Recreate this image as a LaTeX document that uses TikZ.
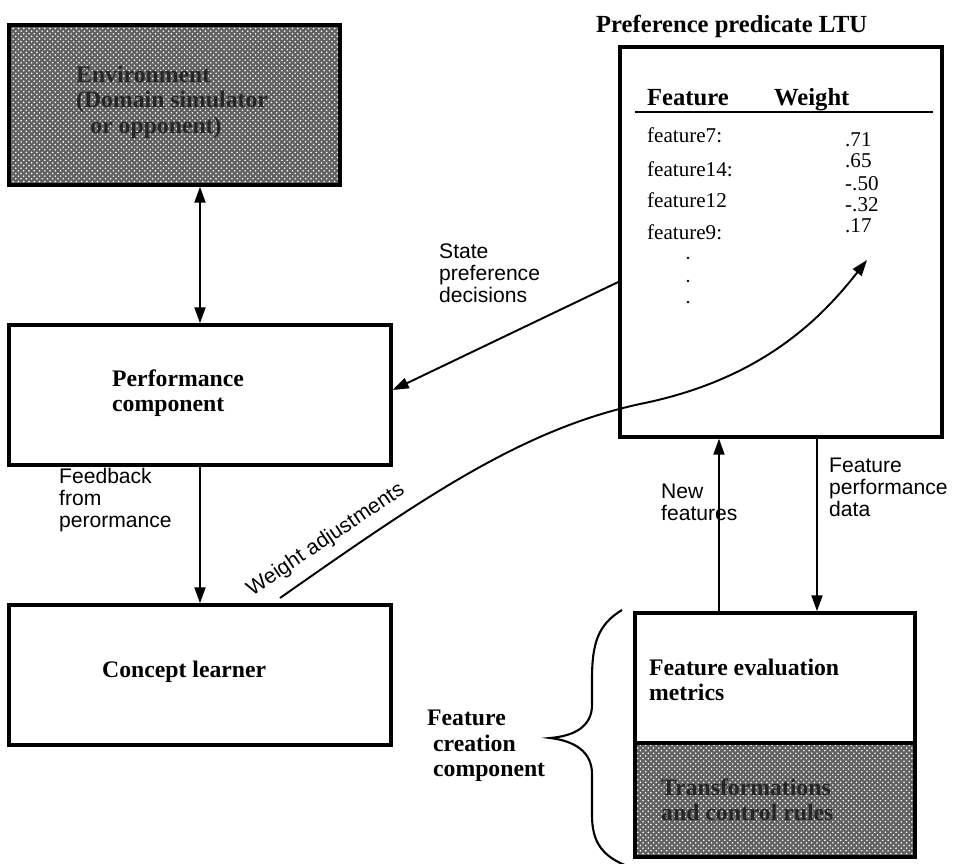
\documentclass[tikz,border=0pt]{standalone}
\usepackage{fontspec}
\setmainfont{Liberation Serif}
\setsansfont{Liberation Sans}
\usetikzlibrary{arrows.meta,patterns,calc}

\tikzset{
  box/.style={draw, line width=2pt, inner sep=0pt},
  shaded/.style={preaction={fill=black!62}, pattern=crosshatch dots, pattern color=white!80},
  boxtext/.style={anchor=west, align=left, font=\fontsize{13.5}{14.5}\selectfont\bfseries},
  flowlabel/.style={anchor=west, align=left, font=\sffamily\fontsize{12}{12.5}\selectfont},
  rowtext/.style={anchor=base west, font=\fontsize{12}{14}\selectfont},
  headtext/.style={anchor=base west, font=\fontsize{14}{16}\selectfont\bfseries},
  arrow/.style={line width=1.1pt, -{Triangle[length=3.2mm,width=2.2mm]}},
  dblarrow/.style={line width=1.1pt, {Triangle[length=3.2mm,width=2.2mm]}-{Triangle[length=3.2mm,width=2.2mm]}},
}

\begin{document}
\begin{tikzpicture}[x=0.02cm, y=-0.02cm]
\useasboundingbox (0,0) rectangle (965,864);

% left column
\node[box, shaded, minimum width=6.62cm, minimum height=3.2cm] (env) at (174.5,105) {};
\node[box, minimum width=7.64cm, minimum height=2.8cm] (perf) at (200,395) {};
\node[box, minimum width=7.64cm, minimum height=2.8cm] (learner) at (200,675) {};

\node[boxtext, text=black!85] (envtext) at (70,102) {Environment\\(Domain simulator\\\hspace*{0.6em}or opponent)};
\node[boxtext] (perftext) at (106,393) {Performance\\component};
\node[boxtext] (learnertext) at (96,672) {Concept learner};

% the LTU
\node[box, minimum width=6.44cm, minimum height=7.8cm] (ltu) at (781,242) {};
\node[headtext] (ltutitle) at (590,33) {Preference predicate LTU};
\node[headtext] (colfeat) at (641,106) {Feature};
\node[headtext] (colweight) at (768,106) {Weight};
\draw[line width=1.5pt] (635,112) -- (933,112);

\foreach \name/\y in {feature7:/143, feature14:/177, feature12/208, feature9:/240}
  \node[rowtext] (row\y) at (641,\y) {\name};
\foreach \val/\y in {.71/147, .65/168, -.50/191, -.32/212, .17/233}
  \node[rowtext] (val\y) at (839,\y) {\val};
\foreach \y in {258,281,302}
  \fill (688,\y) circle (1.3);

% feature creation component
\node[box, minimum width=5.6cm, minimum height=2.6cm] (evalbox) at (775,678) {};
\node[box, shaded, minimum width=5.6cm, minimum height=2.28cm] (rulebox) at (775,800) {};
\node[boxtext] (evaltext) at (643,680) {Feature evaluation\\metrics};
\node[boxtext, text=black!85] (ruletext) at (655,800) {Transformations\\and control rules};
\node[boxtext] (fctext) at (421,746) {Feature\\\hspace*{0.25em}creation\\\hspace*{0.25em}component};

\draw[line width=1.2pt] (622,610) .. controls (597,625) and (592,645) .. (592,680) -- (592,705)
  .. controls (592,726) and (575,736) .. (550,738)
  .. controls (575,741) and (592,752) .. (592,774) -- (592,815)
  .. controls (592,842) and (602,856) .. (627,866);

% connectors
\draw[dblarrow] (perf.north |- env.south) -- (perf.north);
\draw[arrow] (perf.south) -- (learner.north);
\draw[arrow] ($(ltu.west)+(0,40)$) -- ($(perf.east)+(0,-5)$);

\coordinate (wstart) at (280,598);
\coordinate (wend) at (867,260);
\draw[arrow] (wstart) .. controls (420,500) and (520,430) .. (640,404)
  .. controls (760,380) and (820,320) .. (wend);

\coordinate (nfx) at (719,0);
\coordinate (fpx) at (817,0);
\draw[arrow] (nfx |- evalbox.north) -- (nfx |- ltu.south);
\draw[arrow] (fpx |- ltu.south) -- (fpx |- evalbox.north);

% connector labels
\node[flowlabel] (statelabel) at (433,273) {State\\preference\\decisions};
\node[flowlabel] (feedlabel) at (53,500) {Feedback\\from\\perormance};
\node[flowlabel] (newlabel) at (655,502) {New\\features};
\node[flowlabel] (perflabel) at (823,487) {Feature\\performance\\data};
\node[flowlabel, anchor=center, rotate=34] (wlabel) at (326,540) {Weight adjustments};

\end{tikzpicture}
\end{document}
